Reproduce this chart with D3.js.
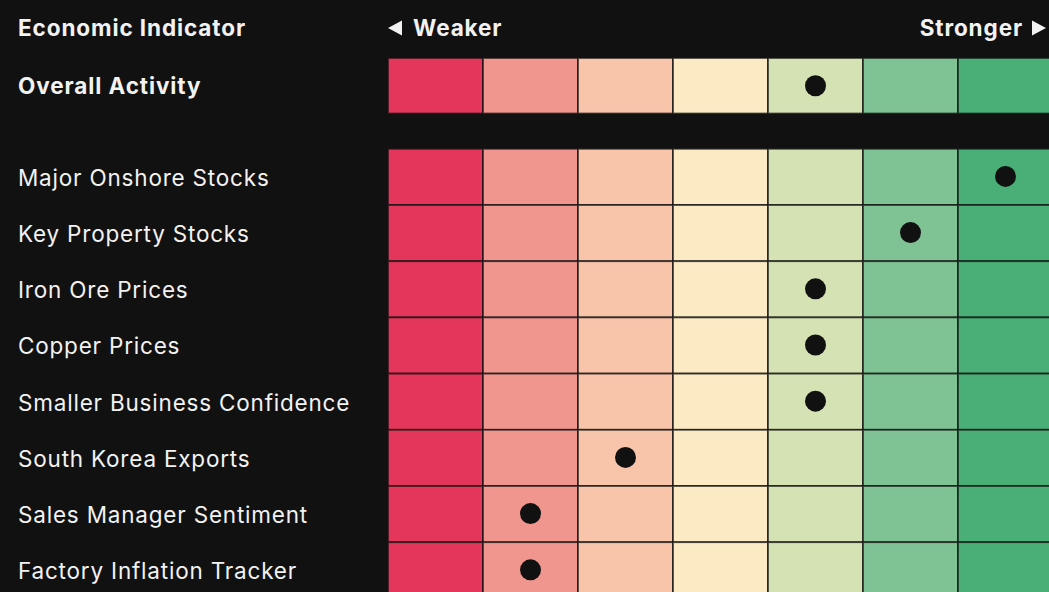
<!DOCTYPE html>
<html>
<head>
<meta charset="utf-8">
<script src="https://cdn.jsdelivr.net/npm/d3@7"></script>
<style>
  body { margin: 0; background: #111111; overflow: hidden; }
  text { font-family: Inter, "Liberation Sans", sans-serif; fill: #f2f2f2; }
</style>
</head>
<body>
<div id="chart"></div>
<script>
const levels = [0, 1, 2, 3, 4, 5, 6];
const levelColors = ["#e4365a", "#f0968f", "#f8c4aa", "#fbeac4", "#d5e2b4", "#7fc293", "#49af77"];

const overallLabel = "Overall Activity";
const overallLevel = 4;

const indicators = [
  "Major Onshore Stocks",
  "Key Property Stocks",
  "Iron Ore Prices",
  "Copper Prices",
  "Smaller Business Confidence",
  "South Korea Exports",
  "Sales Manager Sentiment",
  "Factory Inflation Tracker"
];
const indicatorLevels = [6, 5, 4, 4, 4, 2, 1, 1];

const svg = d3.select("#chart")
  .append("svg")
    .attr("width", 1049)
    .attr("height", 592);

const x = d3.scaleBand()
  .domain(levels)
  .range([388, 388 + 95 * levels.length]);

const y = d3.scaleBand()
  .domain(indicators)
  .range([148.8, 148.8 + 56.2 * indicators.length]);

const color = d3.scaleOrdinal()
  .domain(levels)
  .range(levelColors);

// header
const headerY = 28;

svg.append("text")
    .attr("x", 18)
    .attr("y", headerY)
    .attr("dy", "0.36em")
    .attr("font-size", 22.5)
    .attr("font-weight", 700)
    .attr("letter-spacing", 0.9)
    .text("Economic Indicator");

svg.append("path")
    .attr("d", `M388,${headerY} L402,${headerY - 7.5} L402,${headerY + 7.5} Z`)
    .attr("fill", "#f2f2f2");

svg.append("text")
    .attr("x", 413)
    .attr("y", headerY)
    .attr("dy", "0.36em")
    .attr("font-size", 22.5)
    .attr("font-weight", 700)
    .attr("letter-spacing", 0.9)
    .text("Weaker");

svg.append("text")
    .attr("x", 1023)
    .attr("y", headerY)
    .attr("dy", "0.36em")
    .attr("text-anchor", "end")
    .attr("font-size", 22.5)
    .attr("font-weight", 700)
    .attr("letter-spacing", 0.9)
    .text("Stronger");

svg.append("path")
    .attr("d", `M1046,${headerY} L1032,${headerY - 7.5} L1032,${headerY + 7.5} Z`)
    .attr("fill", "#f2f2f2");

// overall row
const overallY = 58;
const overallH = 55.5;

svg.append("text")
    .attr("x", 18)
    .attr("y", overallY + overallH / 2)
    .attr("dy", "0.38em")
    .attr("font-size", 22.5)
    .attr("font-weight", 700)
    .attr("letter-spacing", 0.9)
    .text(overallLabel);

svg.append("g")
  .selectAll("rect")
  .data(levels)
  .join("rect")
    .attr("x", d => x(d))
    .attr("y", overallY)
    .attr("width", x.bandwidth())
    .attr("height", overallH)
    .attr("fill", d => color(d))
    .attr("stroke", "rgba(20,20,20,0.75)")
    .attr("stroke-width", 1.8);

svg.append("circle")
    .attr("cx", x(overallLevel) + x.bandwidth() / 2)
    .attr("cy", overallY + overallH / 2)
    .attr("r", 10.5)
    .attr("fill", "#111111");

// indicator grid
const rows = svg.append("g")
  .selectAll("g")
  .data(indicators)
  .join("g")
    .attr("transform", d => `translate(0,${y(d)})`);

rows.selectAll("rect")
  .data(levels)
  .join("rect")
    .attr("x", d => x(d))
    .attr("y", 0)
    .attr("width", x.bandwidth())
    .attr("height", y.bandwidth())
    .attr("fill", d => color(d))
    .attr("stroke", "rgba(20,20,20,0.75)")
    .attr("stroke-width", 1.8);

rows.append("text")
    .attr("x", 18)
    .attr("y", y.bandwidth() / 2)
    .attr("dy", "0.4em")
    .attr("font-size", 22.5)
    .attr("letter-spacing", 0.8)
    .text(d => d);

rows.append("circle")
    .attr("cx", (d, i) => x(indicatorLevels[i]) + x.bandwidth() / 2)
    .attr("cy", y.bandwidth() / 2 - 0.5)
    .attr("r", 10.5)
    .attr("fill", "#111111");
</script>
</body>
</html>
